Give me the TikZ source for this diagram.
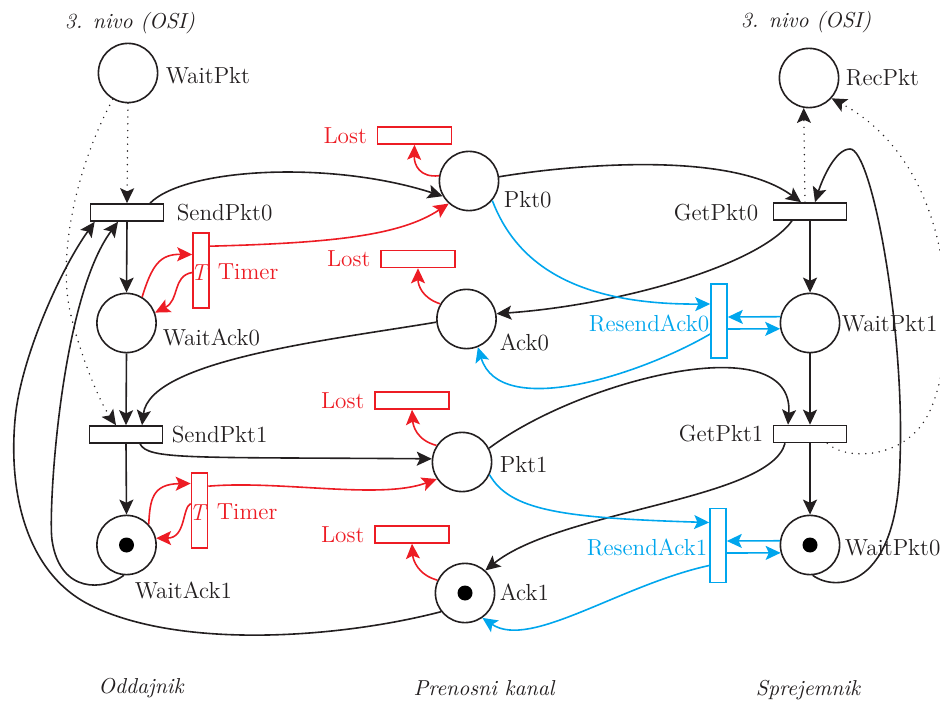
\documentclass[tikz,border=0pt]{standalone}
\usetikzlibrary{arrows.meta,calc}
\definecolor{ink}{RGB}{35,31,32}
\definecolor{pnred}{RGB}{237,28,36}
\definecolor{pnblue}{RGB}{0,166,237}
\begin{document}
\begin{tikzpicture}[x=0.5pt,y=-0.5pt,line width=0.8pt,
  txt/.style={inner sep=0pt, text=ink, font=\fontsize{11.6}{14}\selectfont},
  redtxt/.style={txt, text=pnred},
  bluetxt/.style={txt, text=pnblue},
  captxt/.style={inner sep=0pt, text=ink, font=\fontsize{10.8}{13}\selectfont\itshape},
  place/.style={circle, draw=ink, minimum size=29.6pt, inner sep=0pt},
  trans/.style={rectangle, draw=ink, minimum width=36.5pt, minimum height=8.5pt, inner sep=0pt},
  timer/.style={rectangle, draw=pnred, minimum width=8pt, minimum height=37.5pt, inner sep=0pt},
  resend/.style={rectangle, draw=pnblue, minimum width=8pt, minimum height=37pt, inner sep=0pt},
  lostbox/.style={rectangle, draw=pnred, minimum width=37pt, minimum height=8.5pt, inner sep=0pt},
  token/.style={circle, fill=black, minimum size=7.5pt, inner sep=0pt},
  flow/.style={draw=ink, -{Stealth[length=7.5pt,width=7pt,inset=1.6pt]}},
  redflow/.style={flow, draw=pnred},
  blueflow/.style={flow, draw=pnblue},
  dotflow/.style={flow, line cap=round, dash pattern=on 0pt off 3.4pt},
]
\useasboundingbox (0,0) rectangle (940,704);

% ---------- sender (Oddajnik) ----------
\node[place] (WaitPkt) at (128,73) {};
\node[trans] (SendPkt0) at (127,212.5) {};
\node[place] (WaitAck0) at (126.5,323) {};
\node[trans] (SendPkt1) at (126,434.5) {};
\node[place] (WaitAck1) at (126.5,545) {};
\node[token] (tokWA1) at (WaitAck1) {};
\node[timer] (Timer0) at (201,270.5) {};
\node[timer] (Timer1) at (199.5,510.5) {};

% ---------- channel (Prenosni kanal) ----------
\node[place] (Pkt0) at (469,181) {};
\node[place] (Ack0) at (466.5,319) {};
\node[place] (Pkt1) at (462,462) {};
\node[place] (Ack1) at (465,593) {};
\node[token] (tokA1) at (Ack1) {};
\node[lostbox] (LostP0) at (414.5,135.5) {};
\node[lostbox] (LostA0) at (418,259) {};
\node[lostbox] (LostP1) at (412,400.5) {};
\node[lostbox] (LostA1) at (412,534.5) {};

% ---------- receiver (Sprejemnik) ----------
\node[place] (RecPkt) at (809,78) {};
\node[trans] (GetPkt0) at (810,211.5) {};
\node[place] (WaitPkt1) at (810,323) {};
\node[trans] (GetPkt1) at (810,434) {};
\node[place] (WaitPkt0) at (810,545) {};
\node[token] (tokWP0) at (WaitPkt0) {};
\node[resend] (Resend0) at (719,321) {};
\node[resend] (Resend1) at (718,545.5) {};

% ---------- labels ----------
\node[captxt] (osiL) at (130,23) {3. nivo (OSI)};
\node[captxt] (osiR) at (806,22) {3. nivo (OSI)};
\node[txt, anchor=west] (lWaitPkt) at (165,76) {WaitPkt};
\node[txt, anchor=west] (lSendPkt0) at (176,213) {SendPkt0};
\node[txt, anchor=west] (lWaitAck0) at (162,337) {WaitAck0};
\node[txt, anchor=west] (lSendPkt1) at (171,435) {SendPkt1};
\node[txt, anchor=west] (lWaitAck1) at (134,590) {WaitAck1};
\node[redtxt, anchor=west] (lTimer0) at (217,272) {Timer};
\node[redtxt, anchor=west] (lTimer1) at (216,512) {Timer};
\node[redtxt] (tT0) at ($(Timer0)+(-1,2)$) {\textit{T}};
\node[redtxt] (tT1) at ($(Timer1)+(-1,2)$) {\textit{T}};
\node[txt, anchor=west] (lPkt0) at (503,200) {Pkt0};
\node[txt, anchor=west] (lAck0) at (499,342) {Ack0};
\node[txt, anchor=west] (lPkt1) at (499,465) {Pkt1};
\node[txt, anchor=west] (lAck1) at (499,592) {Ack1};
\node[redtxt, anchor=east] (lLostP0) at ($(LostP0.west)+(-9,0)$) {Lost};
\node[redtxt, anchor=east] (lLostA0) at ($(LostA0.west)+(-9,0)$) {Lost};
\node[redtxt, anchor=east] (lLostP1) at ($(LostP1.west)+(-9,0)$) {Lost};
\node[redtxt, anchor=east] (lLostA1) at ($(LostA1.west)+(-9,0)$) {Lost};
\node[txt, anchor=west] (lRecPkt) at (845,78) {RecPkt};
\node[txt, anchor=east] (lGetPkt0) at (759,213) {GetPkt0};
\node[txt, anchor=west] (lWaitPkt1) at (841,324) {WaitPkt1};
\node[txt, anchor=east] (lGetPkt1) at (764,434) {GetPkt1};
\node[txt, anchor=west] (lWaitPkt0) at (844,548) {WaitPkt0};
\node[bluetxt, anchor=east] (lResend0) at (710,323) {ResendAck0};
\node[bluetxt, anchor=east] (lResend1) at (708,547) {ResendAck1};
\node[captxt] (capS) at (141,688) {Oddajnik};
\node[captxt] (capC) at (484,688) {Prenosni kanal};
\node[captxt] (capR) at (808,690) {Sprejemnik};

% ---------- helper points on transition borders ----------
\coordinate (s0a) at ($(SendPkt0.north)+(23,0)$);
\coordinate (s0b) at ($(SendPkt0.south west)+(5,0)$);
\coordinate (s0c) at ($(SendPkt0.south)+(-9,0)$);
\coordinate (s1a) at ($(SendPkt1.north)+(-10,0)$);
\coordinate (s1b) at ($(SendPkt1.north)+(16,0)$);
\coordinate (s1c) at ($(SendPkt1.south)+(14,0)$);
\coordinate (g0a) at ($(GetPkt0.north)+(-9,0)$);
\coordinate (g0b) at ($(GetPkt0.north)+(5,0)$);
\coordinate (g0c) at ($(GetPkt0.north)+(-5,0)$);
\coordinate (g0d) at ($(GetPkt0.south)+(-18,0)$);
\coordinate (g1a) at ($(GetPkt1.north)+(-22,0)$);
\coordinate (g1b) at ($(GetPkt1.south)+(-25,0)$);
\coordinate (g1c) at ($(GetPkt1.south east)+(-20,0)$);

% ---------- black arcs ----------
\draw[flow] (SendPkt0.south) -- (WaitAck0.north);
\draw[flow] (WaitAck0.south) -- (SendPkt1.north);
\draw[flow] (SendPkt1.south) -- (WaitAck1.north);
\draw[flow] (GetPkt0.south) -- (WaitPkt1.north);
\draw[flow] (WaitPkt1.south) -- (GetPkt1.north);
\draw[flow] (GetPkt1.south) -- (WaitPkt0.north);

\draw[flow] (s0a) .. controls (185,168) and (330,160) .. (Pkt0.210);
\draw[flow] (Pkt0.8) .. controls (570,165) and (730,150) .. (g0a);
\draw[flow] (g0d) .. controls (760,265) and (620,305) .. (Ack0.10);
\draw[flow] (Ack0.186) .. controls (330,340) and (150,360) .. (s1b);
\draw[flow] (s1c) .. controls (148,460) and (190,457) .. (Pkt1.174);
\draw[flow] (Pkt1.27) .. controls (580,380) and (795,325) .. (g1a);
\draw[flow] (g1b) .. controls (770,500) and (560,510) .. (Ack1.48);

% long return arcs
\draw[flow] (Ack1.218) .. controls (340,638) and (180,650) .. (90,605)
  .. controls (30,575) and (8,500) .. (15,420)
  .. controls (20,360) and (60,270) .. (s0b);
\draw[flow] (WaitAck1.265) .. controls (105,590) and (60,595) .. (52,540)
  .. controls (48,512) and (60,300) .. (s0c);
\draw[flow] (WaitPkt0.275) .. controls (835,592) and (898,590) .. (900,460)
  .. controls (905,330) and (872,149) .. (850,149)
  .. controls (835,149) and (822,180) .. (g0b);

% ---------- dotted arcs to/from layer 3 ----------
\draw[dotflow] (WaitPkt.south) -- (SendPkt0.north);
\draw[dotflow] (WaitPkt.240) .. controls (80,160) and (60,240) .. (68,300)
  .. controls (72,330) and (95,395) .. (s1a);
\draw[dotflow] (g0c) -- (RecPkt.260);
\draw[dotflow] (g1c) .. controls (845,460) and (900,460) .. (925,420)
  .. controls (960,364) and (965,170) .. (RecPkt.-42);

% ---------- timers and losses (red) ----------
\draw[redflow] (WaitAck0.59) .. controls (152,265) and (160,254) .. ($(Timer0.west)+(0,-16)$);
\draw[redflow] ($(Timer0.west)+(0,2)$) .. controls (172,276) and (180,300) .. (WaitAck0.20);
\draw[redflow] ($(Timer0.north east)+(0,14)$) .. controls (330,243) and (400,236) .. (Pkt0.228);
\draw[redflow] (WaitAck1.43) .. controls (150,500) and (152,484) .. ($(Timer1.west)+(0,-27)$);
\draw[redflow] ($(Timer1.west)+(0,-7)$) .. controls (182,508) and (186,538) .. (WaitAck1.13);
\draw[redflow] ($(Timer1.north east)+(0,14)$) .. controls (280,480) and (380,500) .. (Pkt1.214);

\draw[redflow] (Pkt0.170) .. controls (420,178) and (414,165) .. (LostP0.south);
\draw[redflow] (Ack0.150) .. controls (422,298) and (418,285) .. (LostA0.south);
\draw[redflow] (Pkt1.147) .. controls (416,440) and (413,425) .. (LostP1.south);
\draw[redflow] (Ack1.155) .. controls (418,575) and (413,560) .. (LostA1.south);

% ---------- acknowledgement resend (blue) ----------
\draw[blueflow] (Pkt0.320) .. controls (515,260) and (570,305) .. ($(Resend0.west)+(0,-17)$);
\draw[blueflow] ($(Resend0.west)+(0,13)$) .. controls (640,375) and (500,420) .. (Ack0.292);
\draw[blueflow] (WaitPkt1.168) -- ($(Resend0.east)+(0,-4)$);
\draw[blueflow] ($(Resend0.east)+(0,8)$) -- (WaitPkt1.191.5);
\draw[blueflow] (Pkt1.335) .. controls (510,510) and (560,518) .. ($(Resend1.west)+(0,-23)$);
\draw[blueflow] ($(Resend1.west)+(0,20)$) .. controls (620,585) and (530,650) .. (Ack1.305);
\draw[blueflow] (WaitPkt0.172) -- ($(Resend1.east)+(0,-4.5)$);
\draw[blueflow] ($(Resend1.east)+(0,7.5)$) -- (WaitPkt0.195.5);
\end{tikzpicture}
\end{document}
